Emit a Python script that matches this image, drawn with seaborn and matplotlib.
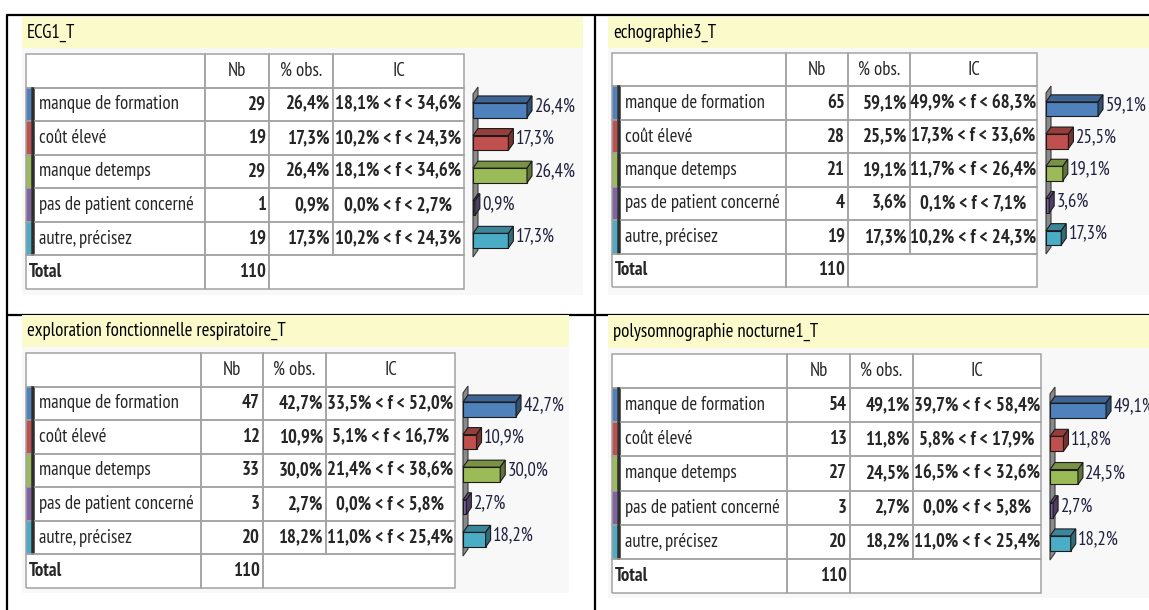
import numpy as np
import matplotlib
matplotlib.use("Agg")
import matplotlib.pyplot as plt
import seaborn as sns
from matplotlib.patches import Rectangle, Polygon
from matplotlib.lines import Line2D
from matplotlib.table import Table
from matplotlib.colors import to_rgb
from matplotlib.font_manager import FontProperties

TITLES = ["ECG1_T", "echographie3_T",
          "exploration fonctionnelle respiratoire_T", "polysomnographie nocturne1_T"]
CATEGORIES = ["manque de formation", "coût élevé", "manque detemps",
              "pas de patient concerné", "autre, précisez"]
COLORS = ["#4f81bd", "#c0504d", "#9bbb59", "#8064a2", "#4bacc6"]
HEADER = ["Nb", "% obs.", "IC"]
TOTAL = 110

NB_ECG = [29, 19, 29, 1, 19]
PCT_ECG = [26.4, 17.3, 26.4, 0.9, 17.3]
LOW_ECG = [18.1, 10.2, 18.1, 0.0, 10.2]
HIGH_ECG = [34.6, 24.3, 34.6, 2.7, 24.3]

NB_ECHO = [65, 28, 21, 4, 19]
PCT_ECHO = [59.1, 25.5, 19.1, 3.6, 17.3]
LOW_ECHO = [49.9, 17.3, 11.7, 0.1, 10.2]
HIGH_ECHO = [68.3, 33.6, 26.4, 7.1, 24.3]

NB_EFR = [47, 12, 33, 3, 20]
PCT_EFR = [42.7, 10.9, 30.0, 2.7, 18.2]
LOW_EFR = [33.5, 5.1, 21.4, 0.0, 11.0]
HIGH_EFR = [52.0, 16.7, 38.6, 5.8, 25.4]

NB_PSG = [54, 13, 27, 3, 20]
PCT_PSG = [49.1, 11.8, 24.5, 2.7, 18.2]
LOW_PSG = [39.7, 5.8, 16.5, 0.0, 11.0]
HIGH_PSG = [58.4, 17.9, 32.6, 5.8, 25.4]

PANELS = [
    (NB_ECG, PCT_ECG, LOW_ECG, HIGH_ECG),
    (NB_ECHO, PCT_ECHO, LOW_ECHO, HIGH_ECHO),
    (NB_EFR, PCT_EFR, LOW_EFR, HIGH_EFR),
    (NB_PSG, PCT_PSG, LOW_PSG, HIGH_PSG),
]

# --- layout in pixels (x0, y0, x1, y1 from top-left) ---
W, H = 1149, 610
LAYOUT = [
    dict(bg=(22, 17, 583, 295), band=48, table=(26, 54, 464, 289),
         cols=(26, 32, 34, 205, 269, 333, 464), wall=473, barlen=54, bars=(94, 257)),
    dict(bg=(608, 17, 1149, 295), band=48, table=(612, 53, 1037, 287),
         cols=(612, 618, 620, 786, 848, 910, 1037), wall=1046, barlen=52, bars=(93, 254)),
    dict(bg=(22, 315, 569, 593), band=347, table=(26, 353, 455, 588),
         cols=(26, 32, 34, 201, 263, 326, 455), wall=463, barlen=53, bars=(393, 556)),
    dict(bg=(608, 315, 1149, 598), band=348, table=(612, 354, 1041, 593),
         cols=(612, 618, 620, 787, 850, 913, 1041), wall=1050, barlen=56, bars=(394, 560)),
]
DX, DY = 5, 7  # 3d depth of the bars, px
FS = 13.5

sns.set_style("white")
plt.rcParams['font.family'] = ['PT Sans Narrow', 'DejaVu Sans']


def rect(x0, y0, x1, y1):
    return [x0 / W, 1 - y1 / H, (x1 - x0) / W, (y1 - y0) / H]


def fmt(v):
    return f"{v:.1f}%".replace(".", ",")


def shade(c, f):
    return tuple(np.clip(np.array(to_rgb(c)) * f, 0, 1))


fig = plt.figure(figsize=(W / 100, H / 100), dpi=100)
fig.patch.set_facecolor("white")

# document frame lines
for (x0, y0, x1, y1) in [(7, 15, 1149, 15), (7, 15, 7, 610), (595, 15, 595, 610), (7, 315, 1149, 315)]:
    fig.add_artist(Line2D([x0 / W, x1 / W], [1 - y0 / H, 1 - y1 / H], color="black",
                          lw=1.6, transform=fig.transFigure, zorder=-5))

normal = FontProperties(size=FS)
bold = FontProperties(size=FS, weight="bold")
GRID = "#a3a3a3"
DARK = "#2e2e2e"

for title, (nb, pct, low, high), lay in zip(TITLES, PANELS, LAYOUT):
    bx0, by0, bx1, by1 = lay["bg"]
    r = rect(bx0, by0, bx1, by1)
    fig.add_artist(Rectangle((r[0], r[1]), r[2], r[3], transform=fig.transFigure,
                             facecolor="#f8f8f8", edgecolor="none", zorder=-3))
    r = rect(bx0, by0, bx1, lay["band"])
    fig.add_artist(Rectangle((r[0], r[1]), r[2], r[3], transform=fig.transFigure,
                             facecolor="#fafacb", edgecolor="none", zorder=-2))
    fig.text((lay["table"][0] + 1) / W, 1 - (by0 + lay["band"]) / 2 / H, title,
             fontsize=FS, va="center", ha="left", color="black")

    # ---- table ----
    tx0, ty0, tx1, ty1 = lay["table"]
    tax = fig.add_axes(rect(tx0, ty0, tx1, ty1))
    tax.set_facecolor("white")
    tax.set_xticks([])
    tax.set_yticks([])
    for s in tax.spines.values():
        s.set_visible(False)
    tb = Table(tax, bbox=[0, 0, 1, 1])
    tb.auto_set_font_size(False)
    colpx = np.diff(lay["cols"])
    widths = colpx / (tx1 - tx0)
    nrows = len(CATEGORIES) + 2
    h = 1 / nrows

    rows = [["", "", ""] + HEADER]
    for i, cat in enumerate(CATEGORIES):
        rows.append(["", "", cat, str(nb[i]), fmt(pct[i]),
                     f"{fmt(low[i])} < f < {fmt(high[i])}"])
    rows.append(["Total", "", "", str(TOTAL), "", ""])

    for ri, row in enumerate(rows):
        is_data = 0 < ri < nrows - 1
        for ci, txt in enumerate(row):
            if ri == 0:
                loc, fp = ("center", normal)
            elif ci < 3:
                loc, fp = ("left", normal if is_data else bold)
            elif ci in (3, 4):
                loc, fp = ("right", bold)
            else:
                loc, fp = ("center", bold)
            cell = tb.add_cell(ri, ci, width=widths[ci], height=h, text=txt, loc=loc,
                               edgecolor=GRID, fontproperties=fp)
            cell.set_linewidth(1.1)
            cell.PAD = (5 if ci == 2 else 3) / colpx[ci]
            cell.set_fill(False)
            if is_data and ci == 0:
                cell.set_fill(True)
                cell.set_facecolor(COLORS[ri - 1])
            elif is_data and ci == 1:
                cell.set_fill(True)
                cell.set_facecolor(DARK)
                cell.set_edgecolor(DARK)
            elif is_data and ci == 2:
                cell.visible_edges = "BTR"
            elif not is_data and ci == 0:
                cell.visible_edges = "BTL"
            elif not is_data and ci == 1:
                cell.visible_edges = "BT"
            elif not is_data and ci == 2:
                cell.visible_edges = "BTR"
            elif ri == nrows - 1 and ci == 4:
                cell.visible_edges = "BTL"
            elif ri == nrows - 1 and ci == 5:
                cell.visible_edges = "BTR"
    tax.add_table(tb)

    # ---- 3d bar chart ----
    yb0, yb1 = lay["bars"]
    bax = fig.add_axes(rect(lay["wall"], yb0, lay["wall"] + lay["barlen"], yb1))
    sns.barplot(x=pct, y=CATEGORIES, hue=CATEGORIES, palette=COLORS, orient="h",
                width=0.45, saturation=1, legend=False, ax=bax,
                edgecolor="#1c1c1c", linewidth=0.8, zorder=3)
    xmax = max(pct)
    bax.set_xlim(0, xmax)
    bax.set_ylim(len(CATEGORIES) - 0.5, -0.5)
    bax.set_axis_off()
    dxd = DX * xmax / lay["barlen"]
    dyd = DY * len(CATEGORIES) / (yb1 - yb0)

    n = len(CATEGORIES)
    wall = Polygon([(0, n - 0.5), (0, -0.5), (dxd, -0.5 - dyd), (dxd, n - 0.5 - dyd)],
                   closed=True, facecolor="#8a8a8a", edgecolor="#3a3a3a", lw=0.8,
                   clip_on=False, zorder=1)
    bax.add_patch(wall)

    for p, val in zip(bax.patches[:n], pct):
        x0, w = p.get_x(), p.get_width()
        y0, hh = p.get_y(), p.get_height()
        col = p.get_facecolor()[:3]
        top = Polygon([(x0, y0), (x0 + w, y0), (x0 + w + dxd, y0 - dyd), (x0 + dxd, y0 - dyd)],
                      closed=True, facecolor=shade(col, 0.78), edgecolor="#1c1c1c",
                      lw=0.8, clip_on=False, zorder=2)
        side = Polygon([(x0 + w, y0), (x0 + w, y0 + hh), (x0 + w + dxd, y0 + hh - dyd),
                        (x0 + w + dxd, y0 - dyd)],
                       closed=True, facecolor=shade(col, 0.62), edgecolor="#1c1c1c",
                       lw=0.8, clip_on=False, zorder=4)
        bax.add_patch(top)
        bax.add_patch(side)
        p.set_clip_on(False)
        bax.text(x0 + w + dxd * 1.5, y0 + hh / 2 - dyd * 0.6, fmt(val), fontsize=FS,
                 va="center", ha="left", color="#202040", clip_on=False)

fig.savefig("out.png", dpi=100, facecolor="white")
